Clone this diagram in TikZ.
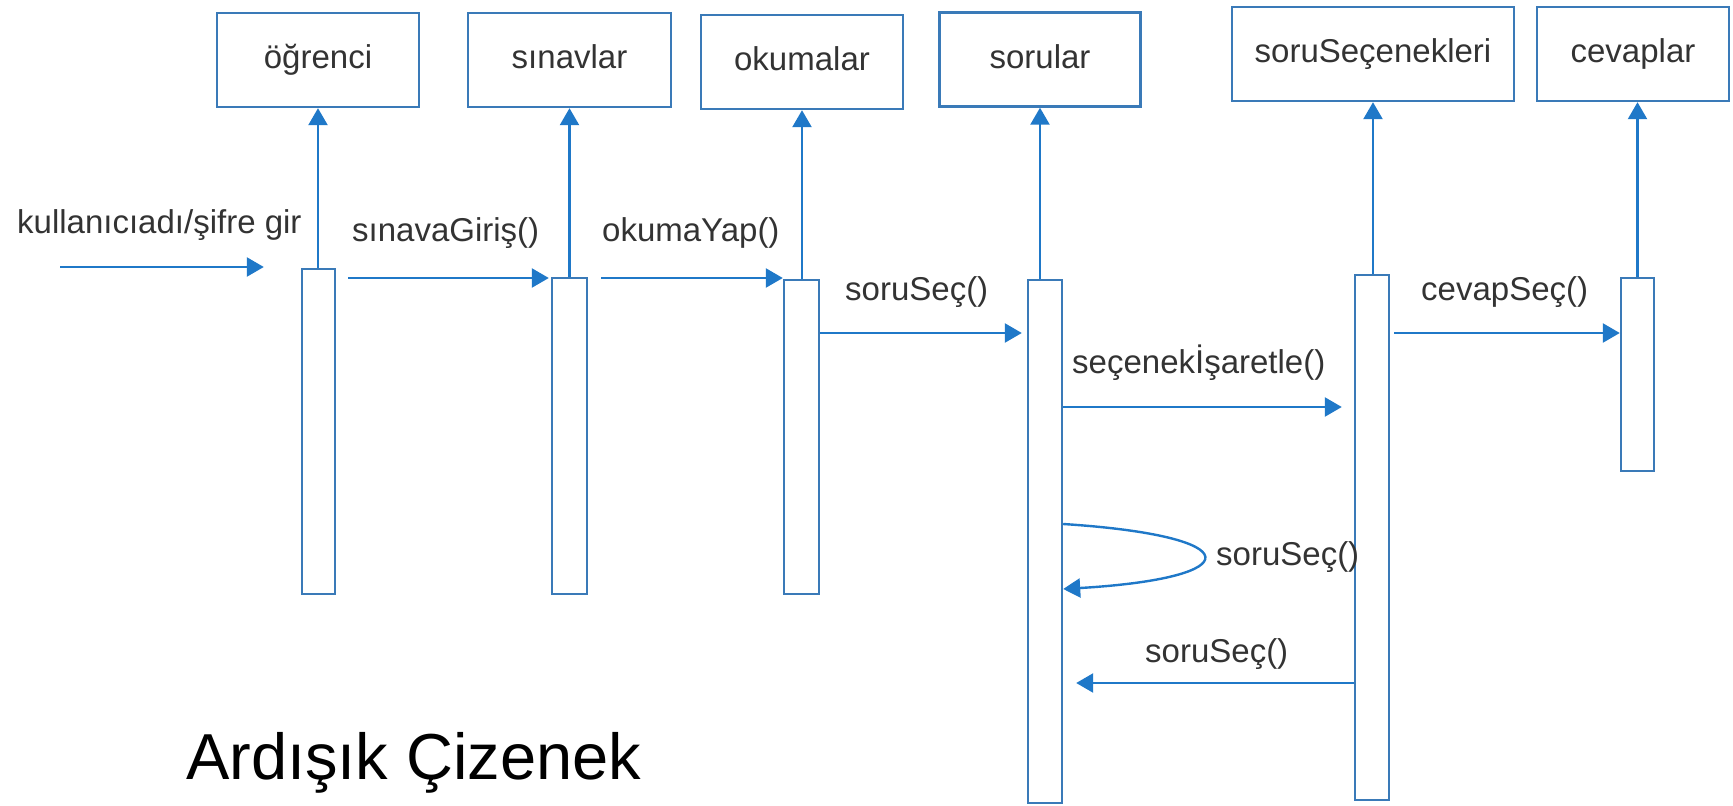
\documentclass[tikz,border=0pt]{standalone}
\usepackage{fontspec}
\setmainfont{Liberation Sans}
\usetikzlibrary{arrows.meta}
\definecolor{lineblue}{RGB}{31,120,200}
\definecolor{boxblue}{RGB}{58,122,184}
\definecolor{labelgray}{RGB}{51,51,51}
\begin{document}
\begin{tikzpicture}[x=1pt,y=-1pt,
  obj/.style={draw=boxblue, line width=2.4pt, rectangle, minimum height=94pt, inner sep=0pt,
    text=labelgray, font=\fontsize{33}{40}\selectfont, text height=24pt, text depth=7pt},
  act/.style={draw=boxblue, line width=2.4pt, rectangle, inner sep=0pt, fill=white},
  msg/.style={draw=lineblue, line width=2.4pt, -{Triangle[length=17pt,width=19pt]}},
  lbl/.style={text=labelgray, font=\fontsize{33}{40}\selectfont, inner sep=0pt, anchor=base west},
]
\useasboundingbox (0,0) rectangle (1733,806);
\fill[white] (0,0) rectangle (1733,806);

% objects
\node[obj, minimum width=202pt] (ogr) at (318,60) {öğrenci};
\node[obj, minimum width=203pt] (sin) at (569.5,60) {sınavlar};
\node[obj, minimum width=202pt] (oku) at (802,62) {okumalar};
\node[obj, minimum width=201pt] (sor) at (1040,59.5) {sorular};
\node[obj, minimum width=282pt] (sse) at (1373,54) {soruSeçenekleri};
\node[obj, minimum width=192pt] (cev) at (1633,54) {cevaplar};

% activation bars
\node[act, minimum width=33pt, minimum height=325pt] (a1) at (318.5,431.5) {};
\node[act, minimum width=35pt, minimum height=316pt] (a2) at (569.5,436) {};
\node[act, minimum width=35pt, minimum height=314pt] (a3) at (801.5,437) {};
\node[act, minimum width=34pt, minimum height=523pt] (a4) at (1045,541.5) {};
\node[act, minimum width=34pt, minimum height=525pt] (a5) at (1372,537.5) {};
\node[act, minimum width=33pt, minimum height=193pt] (a6) at (1637.5,374.5) {};

% lifelines
\draw[msg] (ogr.south |- a1.north) -- (ogr.south);
\draw[msg] (sin.south |- a2.north) -- (sin.south);
\draw[msg] (oku.south |- a3.north) -- (oku.south);
\draw[msg] (sor.south |- a4.north) -- (sor.south);
\draw[msg] (sse.south |- a5.north) -- (sse.south);
\draw[msg] (a6.north) -- (a6.north |- cev.south);

% messages
\coordinate (in) at (60,267);
\draw[msg, shorten >=37pt] (in) -- (a1.west |- in);
\draw[msg, shorten <=12pt, shorten >=2pt] (a1.east |- 0,278) -- (a2.west |- 0,278);
\draw[msg, shorten <=13pt] (a2.east |- 0,278) -- (a3.west |- 0,278);
\draw[msg, shorten >=5pt] (a3.east |- 0,333) -- (a4.west |- 0,333);
\draw[msg, shorten >=12pt] (a4.east |- 0,407) -- (a5.west |- 0,407);
\draw[msg] (a4.east |- 0,524) .. controls (1250,536) and (1250,578) .. (a4.east |- 0,589);
\draw[msg, shorten >=13pt] (a5.west |- 0,683) -- (a4.east |- 0,683);
\draw[msg, shorten <=4pt] (a5.east |- 0,333) -- (a6.west |- 0,333);

% labels
\node[lbl] (l0) at (17,233) {kullanıcıadı/şifre gir};
\node[lbl] (l1) at (352,241) {sınavaGiriş()};
\node[lbl] (l2) at (602,241) {okumaYap()};
\node[lbl] (l3) at (845,300) {soruSeç()};
\node[lbl] (l4) at (1072,373) {seçenekİşaretle()};
\node[lbl] (l5) at (1216,565) {soruSeç()};
\node[lbl] (l6) at (1145,662) {soruSeç()};
\node[lbl] (l7) at (1421,300) {cevapSeç()};
\node[anchor=base west, inner sep=0pt, font=\fontsize{65}{78}\selectfont] (title) at (186,779) {Ardışık Çizenek};
\end{tikzpicture}
\end{document}
